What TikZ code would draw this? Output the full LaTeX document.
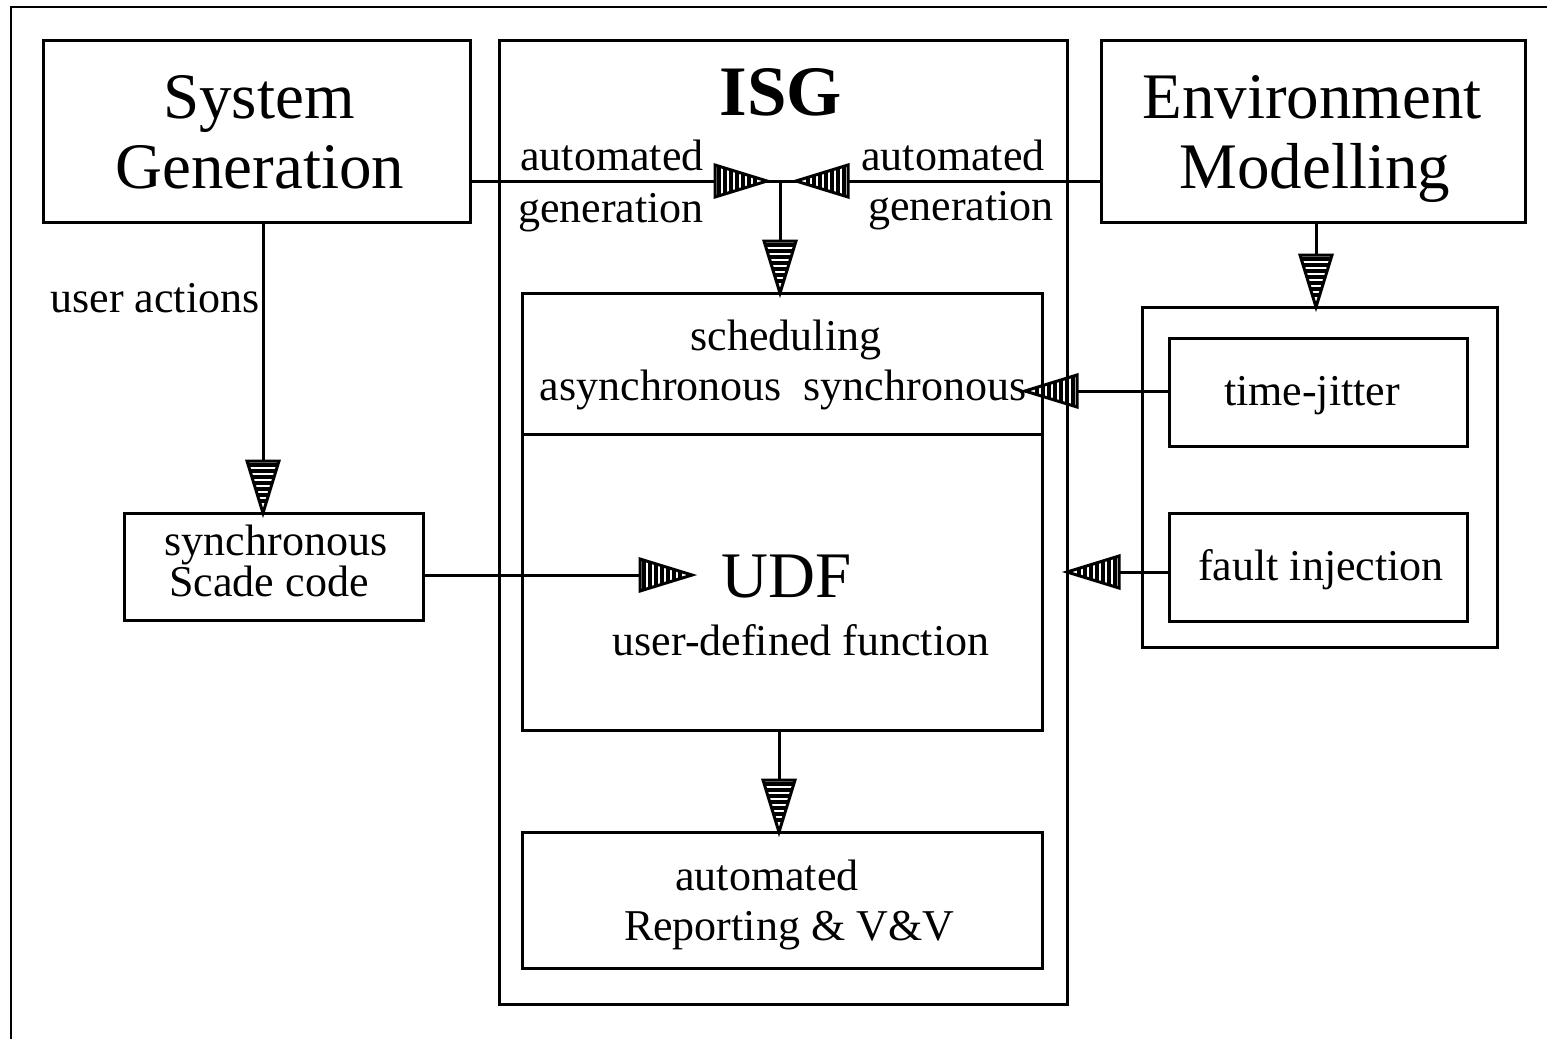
\documentclass[tikz,border=0pt]{standalone}
\usepackage{fontspec}
\setmainfont{Liberation Serif}
\begin{document}
\begin{tikzpicture}[x=0.5pt,y=-0.5pt,
  box/.style={draw, line width=1.5pt, inner sep=0pt, outer sep=0pt},
  conn/.style={line width=1.5pt},
  small/.style={font=\fontsize{22}{26}\selectfont, inner sep=0pt, anchor=base},
  big/.style={font=\fontsize{32.5}{38}\selectfont, inner sep=0pt, anchor=base},
  title/.style={font=\fontsize{35.5}{40}\selectfont\bfseries, inner sep=0pt, anchor=base},
  pics/htip/.style={code={
    \fill[white] (0,0) -- (-52,16) -- (-52,-16) -- cycle;
    \foreach \xx in {-48,-42,...,-12} {
      \pgfmathsetmacro\hh{16*(-\xx)/52}
      \draw[line width=1.6pt] (\xx,\hh) -- (\xx,-\hh);
    }
    \draw[line width=1.5pt, line join=miter] (0,0) -- (-52,16) -- (-52,-16) -- cycle;
  }}
]
\useasboundingbox (0,0) rectangle (1547,1039);

% outer frame (top and left edges only)
\draw[line width=1.2pt] (11,1039) -- (11,7) -- (1547,7);

% boxes (sizes in pt: one drawing unit is 0.5pt)
\node[box, minimum width=213.5pt, minimum height=91pt] (sysgen) at (256.5,131) {};
\node[box, minimum width=284pt, minimum height=482pt] (isg) at (783,522) {};
\node[box, minimum width=212pt, minimum height=91pt] (env) at (1313,131) {};
\node[box, minimum width=260pt, minimum height=70.5pt] (sched) at (782,363.5) {};
\node[box, minimum width=260pt, minimum height=148pt] (udf) at (782,582) {};
\node[box, minimum width=260pt, minimum height=68pt] (report) at (782,900) {};
\node[box, minimum width=149.5pt, minimum height=53.5pt] (scade) at (273.5,566.5) {};
\node[box, minimum width=177.5pt, minimum height=170pt] (envbox) at (1319.5,477) {};
\node[box, minimum width=149pt, minimum height=54pt] (jitter) at (1318,392) {};
\node[box, minimum width=149pt, minimum height=54pt] (fault) at (1318,567) {};

% texts
\node[big] (tsys) at (259,118) {System};
\node[big] (tgen) at (260,188) {Generation};
\node[title] (tisg) at (781,115) {ISG};
\node[big] (tenv) at (1312,118) {Environment};
\node[big] (tmod) at (1315,188) {Modelling};
\node[small] (tal) at (612,170) {automated};
\node[small] (tgl) at (611,222) {generation};
\node[small] (tar) at (953,170) {automated};
\node[small] (tgr) at (961,220) {generation};
\node[small, anchor=base west] (tua) at (50,312) {user actions};
\node[small] (tsch) at (786,350) {scheduling};
\node[small] (tas) at (783,400) {asynchronous\ \ synchronous};
\node[small] (tsy) at (276,555) {synchronous};
\node[small] (tsc) at (269,596) {Scade code};
\node[big] (tudf) at (787,597) {UDF};
\node[small] (tudd) at (801,655) {user-defined function};
\node[small] (ttj) at (1312,405) {time-jitter};
\node[small] (tfi) at (1321,580) {fault injection};
\node[small] (tau) at (767,890) {automated};
\node[small] (trp) at (789,940) {Reporting \& V\&V};

% connector geometry
\coordinate (junc) at (780,181);
\coordinate (jl) at (767,181);
\coordinate (jr) at (796,181);
\coordinate (ualine) at (263,0);
\coordinate (envline) at (1316,0);
\coordinate (tjline) at (0,391);
\coordinate (tjtip) at (1025,391);
\coordinate (fiine) at (0,572);
\coordinate (udftip) at (692,575);
\coordinate (scline) at (0,575);
\coordinate (vline) at (779,0);

% connectors
\draw[conn] (sysgen.east |- junc) -- (junc);
\draw[conn] (env.west |- junc) -- (junc);
\draw[conn] (junc) -- (sched.north -| junc);
\draw[conn] (sysgen.south -| ualine) -- (scade.north -| ualine);
\draw[conn] (env.south -| envline) -- (envbox.north -| envline);
\draw[conn] (jitter.west |- tjline) -- (tjtip);
\draw[conn] (fault.west |- fiine) -- (isg.east |- fiine);
\draw[conn] (scade.east |- scline) -- (udftip);
\draw[conn] (udf.south -| vline) -- (report.north -| vline);

% hatched arrow tips
\pic at (jl) {htip};
\pic[rotate=180] at (jr) {htip};
\pic[rotate=-90] at (sched.north -| junc) {htip};
\pic[rotate=-90] at (scade.north -| ualine) {htip};
\pic[rotate=-90] at (envbox.north -| envline) {htip};
\pic[rotate=180] at (tjtip) {htip};
\pic[rotate=180] at (isg.east |- fiine) {htip};
\pic at (udftip) {htip};
\pic[rotate=-90] at (report.north -| vline) {htip};
\end{tikzpicture}
\end{document}
